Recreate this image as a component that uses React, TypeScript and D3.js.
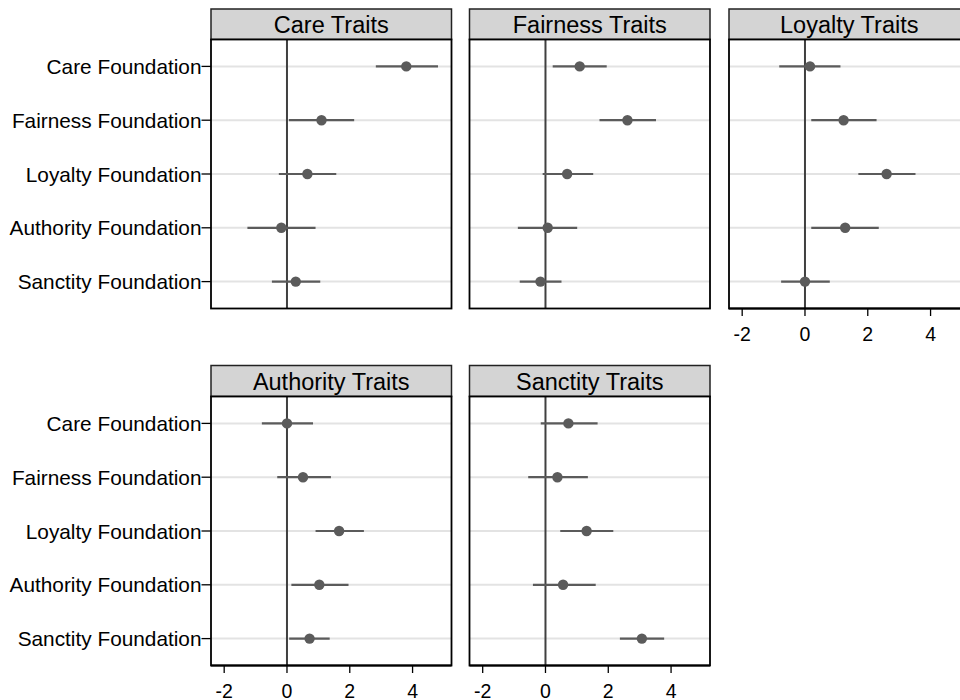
import React from "react";
import * as d3 from "d3";

const foundations = [
  "Care Foundation",
  "Fairness Foundation",
  "Loyalty Foundation",
  "Authority Foundation",
  "Sanctity Foundation",
];

const panels = ["Care Traits", "Fairness Traits", "Loyalty Traits", "Authority Traits", "Sanctity Traits"];

// estimates, lower CI, upper CI per panel (in foundation order)
const careEst = [3.8, 1.1, 0.65, -0.18, 0.28];
const careLo = [2.83, 0.06, -0.26, -1.26, -0.48];
const careHi = [4.81, 2.14, 1.57, 0.91, 1.06];

const fairEst = [1.09, 2.61, 0.69, 0.07, -0.16];
const fairLo = [0.23, 1.72, -0.09, -0.88, -0.82];
const fairHi = [1.95, 3.52, 1.52, 1.01, 0.51];

const loyalEst = [0.16, 1.23, 2.6, 1.28, 0.0];
const loyalLo = [-0.82, 0.2, 1.7, 0.2, -0.76];
const loyalHi = [1.13, 2.28, 3.52, 2.35, 0.79];

const authEst = [0.0, 0.51, 1.66, 1.03, 0.72];
const authLo = [-0.8, -0.31, 0.91, 0.14, 0.07];
const authHi = [0.83, 1.4, 2.45, 1.96, 1.36];

const sancEst = [0.73, 0.38, 1.31, 0.56, 3.07];
const sancLo = [-0.15, -0.55, 0.47, -0.4, 2.37];
const sancHi = [1.66, 1.35, 2.16, 1.6, 3.78];

const xTicks = [-2, 0, 2, 4];

const panelData = [
  { est: careEst, lo: careLo, hi: careHi },
  { est: fairEst, lo: fairLo, hi: fairHi },
  { est: loyalEst, lo: loyalLo, hi: loyalHi },
  { est: authEst, lo: authLo, hi: authHi },
  { est: sancEst, lo: sancLo, hi: sancHi },
];

const colX = [
  [211, 451.5],
  [469.5, 710],
  [729, 969.5],
];
const rowY = [
  { stripTop: 9, plotTop: 39.5, plotBottom: 308.5 },
  { stripTop: 365.5, plotTop: 396.5, plotBottom: 665.5 },
];

const FONT = "'Liberation Sans', Arial, Helvetica, sans-serif";
const markColor = "#5b5b5b";

function Panel({ idx }: { idx: number }) {
  const row = Math.floor(idx / 3);
  const col = idx % 3;
  const [x0, x1] = colX[col];
  const { stripTop, plotTop, plotBottom } = rowY[row];
  const x = d3.scaleLinear().domain([-2.42, 5.24]).range([x0, x1]);
  const y = d3.scalePoint<string>().domain(foundations).range([plotTop, plotBottom]).padding(0.5);
  const d = panelData[idx];
  const showY = col === 0;
  const showX = idx >= 2;
  return (
    <g>
      {/* strip */}
      <rect x={x0} y={stripTop} width={x1 - x0} height={plotTop - stripTop} fill="#d4d4d4" stroke="#222" strokeWidth={1.5} />
      <text
        x={(x0 + x1) / 2}
        y={(stripTop + plotTop) / 2 + 1}
        textAnchor="middle"
        dominantBaseline="central"
        fontFamily={FONT}
        fontSize={23.5}
        fill="#000"
      >
        {panels[idx]}
      </text>
      {/* background */}
      <rect x={x0} y={plotTop} width={x1 - x0} height={plotBottom - plotTop} fill="#fff" />
      {/* gridlines */}
      {foundations.map((f) => (
        <line key={f} x1={x0} x2={x1} y1={y(f)} y2={y(f)} stroke="#e3e3e3" strokeWidth={2} />
      ))}
      {/* zero line */}
      <line x1={x(0)} x2={x(0)} y1={plotTop} y2={plotBottom} stroke="#404040" strokeWidth={2} />
      {/* error bars and points */}
      {foundations.map((f, i) => (
        <g key={f}>
          <line x1={x(d.lo[i])} x2={x(d.hi[i])} y1={y(f)} y2={y(f)} stroke={markColor} strokeWidth={2.2} />
          <circle cx={x(d.est[i])} cy={y(f)} r={5.2} fill={markColor} />
        </g>
      ))}
      {/* border */}
      <rect x={x0} y={plotTop} width={x1 - x0} height={plotBottom - plotTop} fill="none" stroke="#000" strokeWidth={1.8} />
      {showY &&
        foundations.map((f) => (
          <g key={f}>
            <line x1={x0 - 9.5} x2={x0} y1={y(f)} y2={y(f)} stroke="#000" strokeWidth={1.3} />
            <text
              x={x0 - 9.5}
              y={y(f)}
              textAnchor="end"
              dominantBaseline="central"
              fontFamily={FONT}
              fontSize={20.8}
              fill="#000"
            >
              {f}
            </text>
          </g>
        ))}
      {showX && (
        <g>
          <line x1={x0} x2={x1} y1={plotBottom} y2={plotBottom} stroke="#000" strokeWidth={2.2} />
          {xTicks.map((t) => (
            <g key={t}>
              <line x1={x(t)} x2={x(t)} y1={plotBottom} y2={plotBottom + 7.5} stroke="#000" strokeWidth={1.3} />
              <text
                x={x(t)}
                y={plotBottom + 32.5}
                textAnchor="middle"
                fontFamily={FONT}
                fontSize={19.5}
                fill="#000"
              >
                {t}
              </text>
            </g>
          ))}
        </g>
      )}
    </g>
  );
}

export default function App() {
  return (
    <svg
      width={960}
      height={700}
      style={{ position: "absolute", left: 0, top: 0, background: "#fff" }}
    >
      <rect x={0} y={0} width={960} height={700} fill="#fff" />
      {panels.map((p, i) => (
        <Panel key={p} idx={i} />
      ))}
    </svg>
  );
}
